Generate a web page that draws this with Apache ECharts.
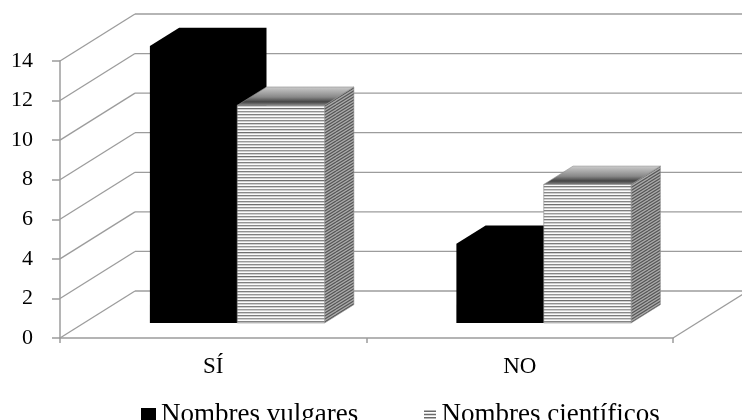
<!DOCTYPE html>
<html>
<head>
<meta charset="utf-8">
<script src="https://cdn.jsdelivr.net/npm/echarts@6/dist/echarts.min.js"></script>
<style>
  html, body { margin: 0; padding: 0; background: #fff; }
  #chart { width: 742px; height: 420px; }
</style>
</head>
<body>
<div id="chart"></div>
<script>
// Data
const categories = ['SÍ', 'NO'];
const seriesNames = ['Nombres vulgares', 'Nombres científicos'];
const vulgares = [14, 4];
const cientificos = [11, 7];
const yTicks = [0, 2, 4, 6, 8, 10, 12, 14];

// 3D projection: full depth of the box, bar front plane and bar depth (fractions of it)
const DEPTH = [75, -47];
const BAR_FRONT = 0.32;
const BAR_DEPTH = 0.39;
const BAR_FRACTION = 0.285; // each bar's width as share of category width

const FONT = "'Liberation Serif', 'Times New Roman', serif";
const GRID_COLOR = '#9c9c9c';

// Horizontal stripes for the front faces
function makeStripes() {
  const c = document.createElement('canvas');
  c.width = 4; c.height = 24;
  const g = c.getContext('2d');
  const dark = ['#8a8a8a', '#7c7c7c', '#969696', '#858585', '#6f6f6f', '#909090', '#7f7f7f', '#9a9a9a'];
  for (let i = 0; i < 8; i++) {
    g.fillStyle = dark[i]; g.fillRect(0, i * 3, 4, 1);
    g.fillStyle = '#cfcfcf'; g.fillRect(0, i * 3 + 1, 4, 1);
    g.fillStyle = '#fbfbfb'; g.fillRect(0, i * 3 + 2, 4, 1);
  }
  return c;
}
// Diagonal hatch for the side faces (follows the depth direction)
function makeHatch() {
  const c = document.createElement('canvas');
  c.width = 24; c.height = 15;
  const g = c.getContext('2d');
  g.fillStyle = '#ababab'; g.fillRect(0, 0, 24, 15);
  g.strokeStyle = '#555';
  g.lineWidth = 1.2;
  for (let k = -6; k <= 36; k += 3) {
    g.beginPath(); g.moveTo(0, k); g.lineTo(24, k - 15); g.stroke();
  }
  return c;
}
const stripeFill = { image: makeStripes(), repeat: 'repeat' };
const hatchFill = { image: makeHatch(), repeat: 'repeat' };
const topFill = {
  type: 'linear', x: 0, y: 1, x2: 0, y2: 0,
  colorStops: [
    { offset: 0, color: '#8a8a8a' },
    { offset: 0.2, color: '#444' },
    { offset: 0.45, color: '#888' },
    { offset: 1, color: '#cdcdcd' }
  ]
};

// Back wall, side wall and floor lines, one group per value tick
function renderWalls(params, api) {
  const cs = params.coordSys;
  const left = cs.x, right = cs.x + cs.width;
  const v = api.value(0);
  const y = api.coord([0, v])[1];
  const lineStyle = { stroke: GRID_COLOR, lineWidth: 1.3, fill: null };
  const children = [
    { type: 'line', shape: { x1: left, y1: y, x2: left + DEPTH[0], y2: y + DEPTH[1] }, style: lineStyle },
    { type: 'line', shape: { x1: left + DEPTH[0], y1: y + DEPTH[1], x2: right + DEPTH[0], y2: y + DEPTH[1] }, style: lineStyle }
  ];
  if (v === 0) {
    children.push({ type: 'line', shape: { x1: right, y1: y, x2: right + DEPTH[0], y2: y + DEPTH[1] }, style: lineStyle });
  }
  return { type: 'group', children: children };
}

// Corner points of a box-shaped bar; side = -1 left of the category centre, 0 right of it
function barBox(api, side) {
  const idx = api.value(0);
  const val = api.value(1);
  const base = api.coord([idx, 0]);
  const top = api.coord([idx, val]);
  const bw = api.size([1, 0])[0] * BAR_FRACTION;
  const fx = DEPTH[0] * BAR_FRONT, fy = DEPTH[1] * BAR_FRONT;
  const x0 = base[0] + side * bw + fx;
  return {
    x0: x0, x1: x0 + bw,
    yb: base[1] + fy, yt: top[1] + fy,
    bx: DEPTH[0] * BAR_DEPTH, by: DEPTH[1] * BAR_DEPTH
  };
}

// Solid bar: one silhouette so the faces merge without seams
function renderSolidBar(params, api) {
  const b = barBox(api, -1);
  return {
    type: 'polygon',
    shape: { points: [
      [b.x0, b.yb], [b.x1, b.yb], [b.x1 + b.bx, b.yb + b.by],
      [b.x1 + b.bx, b.yt + b.by], [b.x0 + b.bx, b.yt + b.by], [b.x0, b.yt]
    ] },
    style: { fill: '#000' }
  };
}

// Patterned bar: front, top and side faces filled separately
function renderPatternBar(params, api) {
  const b = barBox(api, 0);
  const edge = '#8a8a8a';
  return {
    type: 'group',
    children: [
      { type: 'polygon', shape: { points: [[b.x1, b.yb], [b.x1 + b.bx, b.yb + b.by], [b.x1 + b.bx, b.yt + b.by], [b.x1, b.yt]] },
        style: { fill: hatchFill, stroke: edge, lineWidth: 0.6 } },
      { type: 'polygon', shape: { points: [[b.x0, b.yt], [b.x1, b.yt], [b.x1 + b.bx, b.yt + b.by], [b.x0 + b.bx, b.yt + b.by]] },
        style: { fill: topFill, stroke: edge, lineWidth: 0.6 } },
      { type: 'polygon', shape: { points: [[b.x0, b.yb], [b.x1, b.yb], [b.x1, b.yt], [b.x0, b.yt]] },
        style: { fill: stripeFill, stroke: edge, lineWidth: 0.6 } }
    ]
  };
}

const chart = echarts.init(document.getElementById('chart'), null, { renderer: 'canvas' });
chart.setOption({
  animation: false,
  backgroundColor: '#fff',
  grid: { left: 60, right: 69, top: 61, bottom: 82 },
  legend: [
    {
      data: [{ name: seriesNames[0], icon: 'rect', itemStyle: { color: '#000' } }],
      left: 136, top: 396, itemWidth: 15, itemHeight: 13,
      textStyle: { fontFamily: FONT, fontSize: 27, color: '#000' },
      selectedMode: false
    },
    {
      data: [{ name: seriesNames[1], icon: 'path://M0,0H12V1.6H0Z M0,3.2H12V4.8H0Z M0,6.4H12V8H0Z', itemStyle: { color: '#6a6a6a' } }],
      left: 419, top: 396, itemWidth: 13, itemHeight: 8,
      textStyle: { fontFamily: FONT, fontSize: 27, color: '#000' },
      selectedMode: false
    }
  ],
  xAxis: {
    type: 'category',
    data: categories,
    axisLine: { show: true, lineStyle: { color: GRID_COLOR, width: 1.5 } },
    axisTick: { show: true, length: 5, lineStyle: { color: GRID_COLOR, width: 1.5 } },
    axisLabel: { fontFamily: FONT, fontSize: 23, color: '#000', margin: 17 },
    splitLine: { show: false }
  },
  yAxis: {
    type: 'value',
    min: 0, max: 14, interval: 2,
    axisLine: { show: true, lineStyle: { color: GRID_COLOR, width: 1.5 } },
    axisTick: { show: true, length: 8, lineStyle: { color: GRID_COLOR, width: 1.5 } },
    axisLabel: { fontFamily: FONT, fontSize: 22, color: '#000', margin: 27 },
    splitLine: { show: false }
  },
  series: [
    {
      name: 'walls', type: 'custom', clip: false, silent: true, z: 1,
      data: yTicks.map(v => [v]),
      encode: { y: 0 },
      renderItem: renderWalls
    },
    {
      name: seriesNames[0], type: 'custom', clip: false, z: 3,
      itemStyle: { color: '#000' },
      data: vulgares.map((v, i) => [i, v]),
      encode: { x: 0, y: 1 },
      renderItem: renderSolidBar
    },
    {
      name: seriesNames[1], type: 'custom', clip: false, z: 4,
      itemStyle: { color: '#6a6a6a' },
      data: cientificos.map((v, i) => [i, v]),
      encode: { x: 0, y: 1 },
      renderItem: renderPatternBar
    }
  ]
});
</script>
</body>
</html>
